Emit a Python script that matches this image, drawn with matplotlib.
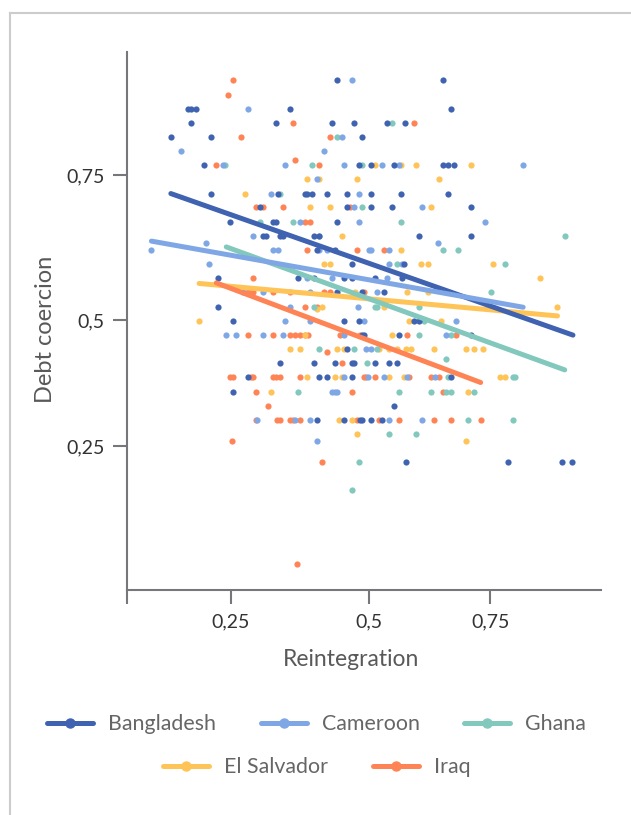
import numpy as np
import matplotlib
matplotlib.use('Agg')
import matplotlib.pyplot as plt
from matplotlib.lines import Line2D

plt.rcParams['font.family'] = ['Lato', 'DejaVu Sans']

# each row: (debt coercion, [reintegration values])
bangladesh = [
    (.913, [.442, .653]),
    (.864, [.173, .178, .187, .357, .669]),
    (.840, [.178, .331, .433, .473, .536, .573]),
    (.816, [.142, .214, .486]),
    (.767, [.201, .482, .504, .551, .653, .663, .674]),
    (.718, [.214, .335, .384, .388, .397, .424, .460, .504, .566, .663]),
    (.694, [.303, .460, .504, .546, .710]),
    (.669, [.249, .326, .331, .442]),
    (.645, [.309, .313, .339, .344, .401, .410, .603, .710]),
    (.621, [.406, .438]),
    (.596, [.469, .572]),
    (.572, [.227, .371, .401, .455, .469, .511, .567]),
    (.548, [.442, .486, .531]),
    (.523, [.227]),
    (.499, [.255, .455, .482, .592, .602]),
    (.470, [.486, .490, .561, .710]),
    (.442, [.460]),
    (.414, [.339, .401, .438, .469, .473, .511, .541, .557]),
    (.386, [.281, .410, .424, .469, .669]),
    (.358, [.255]),
    (.330, [.551]),
    (.302, [.406, .455, .483, .486, .504, .526]),
    (.218, [.576, .787, .899, .919]),
]
cameroon = [
    (.913, [.469]),
    (.864, [.281]),
    (.816, [.451]),
    (.791, [.161, .419]),
    (.767, [.236, .348, .455, .526, .561, .818]),
    (.743, [.406]),
    (.718, [.322, .482]),
    (.694, [.473, .608]),
    (.669, [.375, .482, .739]),
    (.645, [.290]),
    (.633, [.205, .642]),
    (.621, [.107, .326, .335, .410, .423, .499, .504, .541]),
    (.596, [.210, .541, .567]),
    (.572, [.388, .433, .536]),
    (.548, [.272, .309, .393, .516]),
    (.523, [.357, .479]),
    (.499, [.348, .393, .490, .679]),
    (.470, [.241, .259, .309, .344, .455, .659]),
    (.442, [.494, .504]),
    (.386, [.455, .497, .531, .577, .635]),
    (.358, [.433, .438, .442]),
    (.302, [.298, .366, .393, .541, .608]),
    (.260, [.406]),
]
ghana = [
    (.840, [.546]),
    (.816, [.442]),
    (.767, [.240, .397, .486]),
    (.718, [.339]),
    (.694, [.486]),
    (.669, [.303, .362, .566]),
    (.645, [.410, .904]),
    (.621, [.653, .684]),
    (.596, [.557, .781]),
    (.548, [.751]),
    (.523, [.401, .511, .516, .602]),
    (.499, [.612]),
    (.470, [.602, .669]),
    (.442, [.410, .473, .516]),
    (.423, [.659]),
    (.414, [.495]),
    (.386, [.663, .796, .801]),
    (.358, [.371, .561, .628, .659, .669, .716]),
    (.302, [.704, .796]),
    (.274, [.541, .597]),
    (.218, [.482]),
    (.163, [.469]),
]
el_salvador = [
    (.767, [.511, .566, .597, .710]),
    (.743, [.388, .410, .477, .644]),
    (.718, [.276]),
    (.694, [.393, .429, .628]),
    (.645, [.451]),
    (.621, [.566]),
    (.596, [.419, .429, .607, .622, .756]),
    (.572, [.853]),
    (.548, [.474, .577, .622]),
    (.523, [.414, .531, .889]),
    (.519, [.406]),
    (.499, [.192, .582, .648]),
    (.470, [.384, .546]),
    (.442, [.357, .375, .442, .455, .521, .541, .557, .576, .586, .633, .700, .716, .735]),
    (.386, [.388, .438, .451, .541, .572, .771, .781]),
    (.358, [.322, .704]),
    (.302, [.445, .469]),
    (.274, [.477]),
    (.260, [.700]),
]
iraq = [
    (.913, [.255]),
    (.888, [.245]),
    (.840, [.362, .592]),
    (.816, [.268, .429]),
    (.775, [.366]),
    (.767, [.224, .410]),
    (.694, [.295, .309, .344, .465]),
    (.669, [.384, .393]),
    (.621, [.388, .477, .531]),
    (.572, [.290]),
    (.548, [.281, .290, .326, .357, .419, .429, .490]),
    (.523, [.384, .406]),
    (.470, [.281, .326, .357, .366, .375, .384, .390, .447, .483, .577, .679]),
    (.437, [.423]),
    (.414, [.451]),
    (.386, [.249, .254, .286, .290, .326, .331, .339, .375, .490, .494, .511, .582, .628, .644]),
    (.358, [.296, .469, .652]),
    (.330, [.317]),
    (.302, [.295, .334, .339, .357, .362, .375, .477, .521, .561, .633, .669, .731]),
    (.260, [.253]),
    (.218, [.414]),
    (.016, [.369]),
]

# trend lines: x start/end, y start/end
trend_bangladesh = ([.142, .921], [.718, .470])
trend_cameroon = ([.107, .818], [.636, .522])
trend_ghana = ([.242, .904], [.626, .401])
trend_el_salvador = ([.193, .889], [.563, .507])
trend_iraq = ([.224, .730], [.564, .376])

colors = {'Bangladesh': '#3F62B1', 'Cameroon': '#7FA7E6', 'Ghana': '#83C8BD',
          'El Salvador': '#FFC457', 'Iraq': '#FF8455'}

# the axis ticks of the original are not evenly spaced
x_ticks = [.25, .5, .75]
y_ticks = [.25, .5, .75]
x_scale_v = [-1, .062, .25, .5, .75, .979, 2]
x_scale_p = [-444.4, 126.5, 230.7, 369.3, 490.3, 601, 1611]
y_scale_v = [-1, -.036, .25, .5, .75, .962, 2]
y_scale_p = [-1076, -590, -446, -320, -175, -52, 550]


def fwd_x(v):
    return np.interp(v, x_scale_v, x_scale_p)


def inv_x(p):
    return np.interp(p, x_scale_p, x_scale_v)


def fwd_y(v):
    return np.interp(v, y_scale_v, y_scale_p)


def inv_y(p):
    return np.interp(p, y_scale_p, y_scale_v)


W, H = 631, 815
fig = plt.figure(figsize=(W / 100, H / 100), dpi=100)
ax = fig.add_axes([126.5 / W, 1 - 590 / H, (601 - 126.5) / W, (590 - 52) / H])
ax.patch.set_alpha(0)

ax.set_xscale('function', functions=(fwd_x, inv_x))
ax.set_yscale('function', functions=(fwd_y, inv_y))
ax.set_xlim(.062, .979)
ax.set_ylim(-.036, .962)

# dots, Bangladesh ends up on top
for name, rows in [('Iraq', iraq), ('El Salvador', el_salvador), ('Ghana', ghana),
                   ('Cameroon', cameroon), ('Bangladesh', bangladesh)]:
    xs = [x for y, row in rows for x in row]
    ys = [y for y, row in rows for x in row]
    ax.scatter(xs, ys, s=20, color=colors[name], linewidths=0, zorder=2, clip_on=False)

for name, trend in [('El Salvador', trend_el_salvador), ('Iraq', trend_iraq), ('Ghana', trend_ghana),
                    ('Bangladesh', trend_bangladesh), ('Cameroon', trend_cameroon)]:
    ax.plot(trend[0], trend[1], color=colors[name], lw=3.6, solid_capstyle='round', zorder=3)

for s in ['top', 'right']:
    ax.spines[s].set_visible(False)
for s in ['left', 'bottom']:
    ax.spines[s].set_color('#77777B')
    ax.spines[s].set_linewidth(1.5)

ax.set_xticks([.062] + x_ticks, ['', '0,25', '0,5', '0,75'])
ax.set_yticks(y_ticks, ['0,25', '0,5', '0,75'])
ax.minorticks_off()
ax.tick_params(axis='both', length=10, width=1.5, color='#77777B', labelcolor='#333333', labelsize=14, pad=6)
ax.tick_params(axis='x', pad=7)

fig.text(351 / W, 1 - 659 / H, 'Reintegration', ha='center', va='center', fontsize=16.5, color='#595959')
fig.text(46 / W, 1 - 329 / H, 'Debt coercion', ha='center', va='center', rotation=90, fontsize=17, color='#595959')


def legend_row(names, y):
    handles = [Line2D([], [], color=colors[n], lw=3.6, marker='o', ms=6.5, solid_capstyle='round') for n in names]
    fig.legend(handles, names, loc='center', bbox_to_anchor=(316.5 / W, 1 - y / H), ncol=len(names), frameon=False,
               fontsize=15.4, labelcolor='#666666', handlelength=2.15, handletextpad=0.7, columnspacing=2.1,
               borderpad=0, borderaxespad=0)


legend_row(['Bangladesh', 'Cameroon', 'Ghana'], 724)
legend_row(['El Salvador', 'Iraq'], 767)

# light frame around the chart, only top and left
fig.add_artist(Line2D([9.5 / W, 9.5 / W], [0, 1 - 13 / H], color='#CCCCCC', lw=1.5))
fig.add_artist(Line2D([9.5 / W, 1], [1 - 13 / H, 1 - 13 / H], color='#CCCCCC', lw=1.5))

fig.savefig('out.png', dpi=100)
